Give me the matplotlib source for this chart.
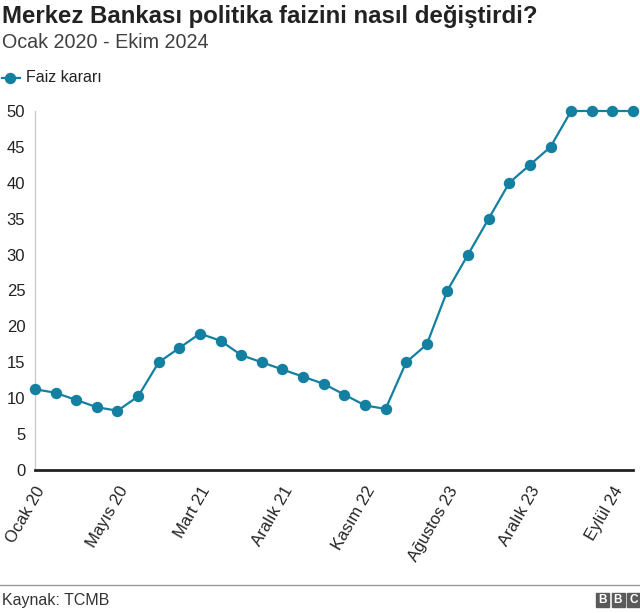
import matplotlib.pyplot as plt
import matplotlib.patches as mpatches
import matplotlib
matplotlib.rcParams['font.family'] = ['Liberation Sans', 'DejaVu Sans']

# Policy rate decisions (TCMB), Ocak 2020 - Ekim 2024
RATES = [11.25, 10.75, 9.75, 8.75, 8.25, 10.25, 15, 17, 19, 18, 16, 15, 14,
         13, 12, 10.5, 9, 8.5, 15, 17.5, 25, 30, 35, 40, 42.5, 45, 50, 50, 50, 50]
TICK_POS = [0, 4, 8, 12, 16, 20, 24, 28]
TICK_LABELS = ['Ocak 20', 'Mayıs 20', 'Mart 21', 'Aralık 21', 'Kasım 22',
               'Ağustos 23', 'Aralık 23', 'Eylül 24']
Y_TICKS = [0, 5, 10, 15, 20, 25, 30, 35, 40, 45, 50]

TEAL = '#1380A1'
W, H = 640, 613

fig = plt.figure(figsize=(6.4, 6.13), dpi=100)
ax = fig.add_axes([35 / W, 1 - 470 / H, (633 - 35) / W, (470 - 111) / H])

x = list(range(len(RATES)))
ax.plot(x, RATES, color=TEAL, lw=1.6, marker='o', ms=8.2,
        markeredgewidth=0, clip_on=False, zorder=3)

ax.set_xlim(0, len(RATES) - 1)
ax.set_ylim(0, 50)
ax.set_yticks(Y_TICKS)
ax.set_yticklabels([str(v) for v in Y_TICKS], fontsize=12, color='#222222')
ax.set_xticks(TICK_POS)
ax.set_xticklabels(TICK_LABELS, rotation=60, ha='right', rotation_mode='anchor',
                   fontsize=12, color='#222222')
ax.tick_params(axis='y', length=0, pad=7)
ax.tick_params(axis='x', length=0, pad=10)

for s in ['top', 'right']:
    ax.spines[s].set_visible(False)
ax.spines['left'].set_color('#cccccc')
ax.spines['left'].set_linewidth(1)
ax.spines['bottom'].set_color('#222222')
ax.spines['bottom'].set_linewidth(2)
ax.spines['bottom'].set_zorder(4)

# titles
fig.text(2 / W, 1 - 16 / H, 'Merkez Bankası politika faizini nasıl değiştirdi?',
         fontsize=17.3, fontweight='bold', color='#222222', va='center')
fig.text(2 / W, 1 - 43 / H, 'Ocak 2020 - Ekim 2024', fontsize=14.2,
         color='#404040', va='center')

# legend
fig.lines.append(plt.Line2D([2 / W, 20 / W], [1 - 78 / H, 1 - 78 / H],
                            transform=fig.transFigure, color=TEAL, lw=1.6))
fig.lines.append(plt.Line2D([10 / W], [1 - 78 / H], transform=fig.transFigure,
                            color=TEAL, marker='o', ms=8.2, markeredgewidth=0))
fig.text(26 / W, 1 - 78 / H, 'Faiz kararı', fontsize=11.5, color='#222222',
         va='center')

# footer
fig.lines.append(plt.Line2D([0, 1], [1 - 585 / H, 1 - 585 / H],
                            transform=fig.transFigure, color='#999999', lw=1))
fig.text(2 / W, 1 - 600 / H, 'Kaynak: TCMB', fontsize=11.5, color='#333333',
         va='center')

for i, letter in enumerate('BBC'):
    x0 = 596 + i * 15.5
    fig.patches.append(mpatches.Rectangle((x0 / W, 1 - 607 / H), 13 / W, 14 / H,
                                          transform=fig.transFigure,
                                          color='#5a5a5a'))
    fig.text((x0 + 6.5) / W, 1 - 600 / H, letter, fontsize=8.5,
             fontweight='bold', color='white', ha='center', va='center')

fig.savefig('out.png', dpi=100)
